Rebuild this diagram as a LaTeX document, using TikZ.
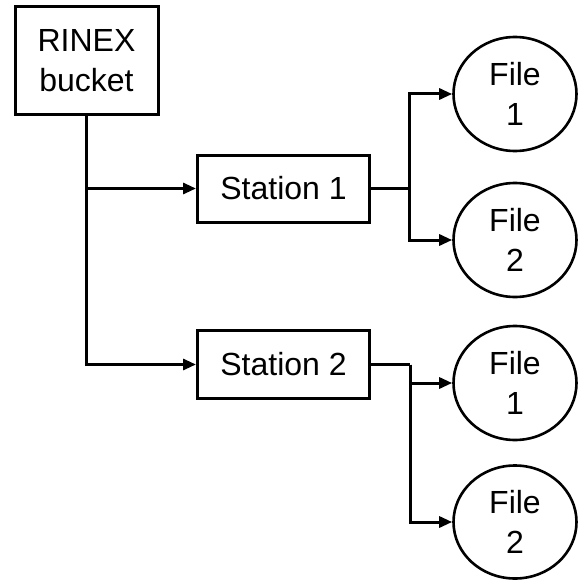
\documentclass[tikz,border=0pt]{standalone}
\usepackage{fontspec}
\setmainfont{Liberation Sans}
\usetikzlibrary{arrows.meta,shapes.geometric}
\begin{document}
\begin{tikzpicture}[x=1pt,y=-1pt,
  every node/.style={font=\fontsize{32}{40}\selectfont, align=center, inner sep=0pt},
  boxnode/.style={draw, line width=3pt, rectangle},
  filenode/.style={draw, line width=2.6pt, ellipse, minimum width=123pt, minimum height=114pt},
  link/.style={line width=3pt, -{Triangle[length=13pt,width=11pt]}},
  wire/.style={line width=3pt}]
\useasboundingbox (0,0) rectangle (579,583);
% source and stations
\node[boxnode, minimum width=143pt, minimum height=108pt] (rinex) at (86.5,61) {RINEX\\bucket};
\node[boxnode, minimum width=172pt, minimum height=67pt] (st1) at (283.5,188.5) {Station 1};
\node[boxnode, minimum width=172pt, minimum height=68pt] (st2) at (283.5,364.5) {Station 2};
% files
\node[filenode] (f11) at (515,94) {File\\1};
\node[filenode] (f12) at (515,240) {File\\2};
\node[filenode] (f21) at (515,383) {File\\1};
\node[filenode, minimum height=113pt] (f22) at (515,522) {File\\2};
% bucket to stations
\draw[link] (rinex.south) |- (st2.west);
\draw[link] (rinex.south |- st1.west) -- (st1.west);
% stations to files
\coordinate (j1) at ([xshift=38pt]st1.east);
\coordinate (j2) at ([xshift=39pt]st2.east);
\draw[wire] (st1.east) -- (j1);
\draw[link] (j1) |- (f11.west);
\draw[link] (j1) |- (f12.west);
\draw[wire] (st2.east) -- (j2);
\draw[link] (j2) |- (f21.west);
\draw[link] (j2) |- (f22.west);
\end{tikzpicture}
\end{document}
